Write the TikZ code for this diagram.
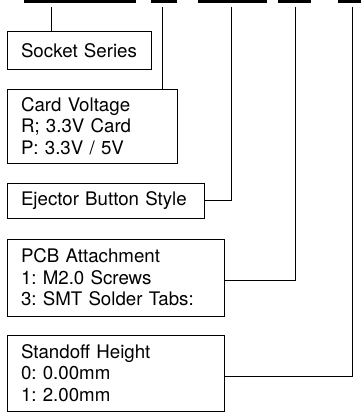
\documentclass[tikz,border=0pt]{standalone}
\usepackage{fontspec}
\setmainfont{TeX Gyre Heros}
\begin{document}
\begin{tikzpicture}[x=1pt,y=-1pt,inner sep=0pt,outer sep=0pt,line width=1pt,
partbox/.style={draw,rectangle,anchor=north west,align=left,inner xsep=14pt,inner ysep=0pt,
  font=\fontsize{18.7}{21.5}\selectfont\frenchspacing},
digit/.style={line width=3pt}]
\useasboundingbox (0,0) rectangle (360,412);
% part number digit positions
\draw[digit] (24,1.5) -- (136,1.5);
\draw[digit] (151,1.5) -- (177,1.5);
\draw[digit] (198,1.5) -- (267,1.5);
\draw[digit] (278,1.5) -- (311,1.5);
\draw[digit] (338,1.5) -- (362,1.5);
\coordinate (d1) at (51,7);
\coordinate (d2) at (162,7);
\coordinate (d3) at (231.5,7);
\coordinate (d4) at (295.5,7);
\coordinate (d5) at (352,7);
% description boxes
\draw (7,32) node[partbox,text width=116pt,minimum height=37pt] (socket) {Socket Series};
\draw (7,89) node[partbox,text width=142pt,minimum height=74pt] (voltage) {Card Voltage\\R; 3.3V Card\\P: 3.3V / 5V};
\draw (7,183) node[partbox,text width=169pt,minimum height=35pt] (ejector) {Ejector Button Style};
\draw (7,239) node[partbox,text width=189pt,minimum height=77pt] (pcb) {PCB Attachment\\1: M2.0 Screws\\3: SMT Solder Tabs:};
\draw (7,335) node[partbox,text width=189pt,minimum height=76pt] (standoff) {Standoff Height\\0: 0.00mm\\1: 2.00mm};
% leaders
\draw (d1) -- (d1 |- socket.north);
\draw (d2) -- (d2 |- voltage.north);
\draw (d3) |- (ejector.east);
\draw (d4) |- ([yshift=-2.5pt]pcb.east);
\draw (d5) |- ([yshift=-3pt]standoff.east);
\end{tikzpicture}
\end{document}
